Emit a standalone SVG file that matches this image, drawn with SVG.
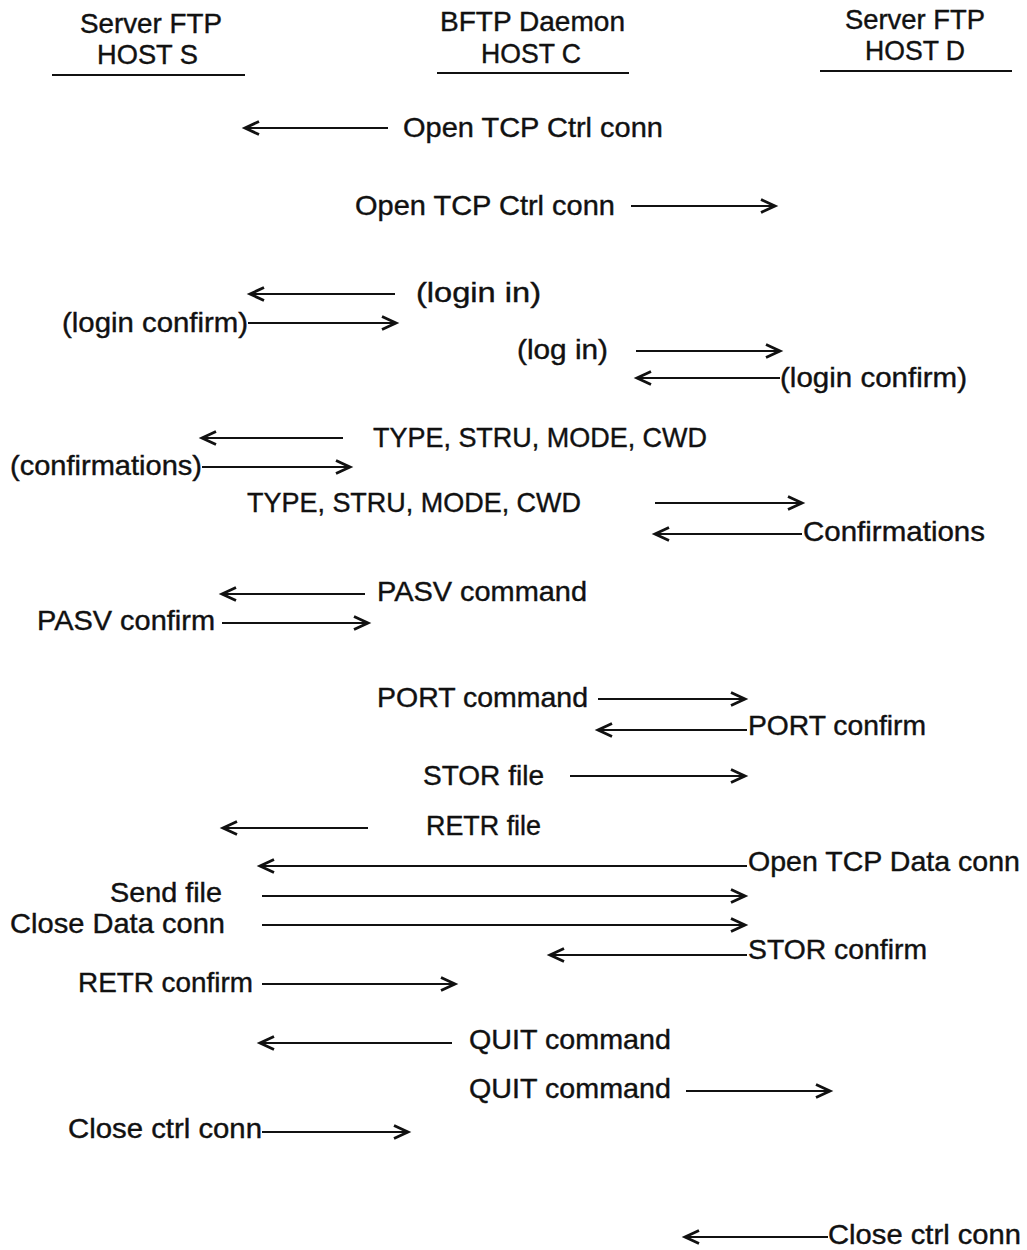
<svg xmlns="http://www.w3.org/2000/svg" width="1027" height="1250" viewBox="0 0 1027 1250">
<style>
text{font-family:"Liberation Sans",Arial,sans-serif;font-size:28px;fill:#111;stroke:#111;stroke-width:0.4}
.hl{stroke:#111;stroke-width:2}
.ar{stroke:#111;stroke-width:2.2;fill:none;marker-end:url(#ah)}
</style>
<defs>
<marker id="ah" markerUnits="userSpaceOnUse" markerWidth="18" markerHeight="16" refX="15" refY="8" orient="auto" overflow="visible">
<path d="M1,1.5 L15,8 L1,14.5" fill="none" stroke="#111" stroke-width="2.8" stroke-linejoin="miter"/>
</marker>
</defs>
<rect width="1027" height="1250" fill="#fff"/>
<g id="hostS">
<text x="80" y="33" textLength="142" lengthAdjust="spacingAndGlyphs">Server FTP</text>
<text x="97" y="64" textLength="101" lengthAdjust="spacingAndGlyphs">HOST S</text>
<line class="hl" x1="52" y1="75" x2="245" y2="75"/>
</g>
<g id="hostC">
<text x="440" y="31" textLength="185" lengthAdjust="spacingAndGlyphs">BFTP Daemon</text>
<text x="481" y="63" textLength="100" lengthAdjust="spacingAndGlyphs">HOST C</text>
<line class="hl" x1="437" y1="73" x2="629" y2="73"/>
</g>
<g id="hostD">
<text x="845" y="29" textLength="140" lengthAdjust="spacingAndGlyphs">Server FTP</text>
<text x="865" y="60" textLength="100" lengthAdjust="spacingAndGlyphs">HOST D</text>
<line class="hl" x1="820" y1="71" x2="1012" y2="71"/>
</g>
<g id="labels">
<text x="403" y="137" textLength="260" lengthAdjust="spacingAndGlyphs">Open TCP Ctrl conn</text>
<text x="355" y="215" textLength="260" lengthAdjust="spacingAndGlyphs">Open TCP Ctrl conn</text>
<text x="416" y="302" textLength="125" lengthAdjust="spacingAndGlyphs">(login in)</text>
<text x="62" y="332" textLength="186" lengthAdjust="spacingAndGlyphs">(login confirm)</text>
<text x="517" y="359" textLength="91" lengthAdjust="spacingAndGlyphs">(log in)</text>
<text x="780" y="387" textLength="187" lengthAdjust="spacingAndGlyphs">(login confirm)</text>
<text x="373" y="447" textLength="334" lengthAdjust="spacingAndGlyphs">TYPE, STRU, MODE, CWD</text>
<text x="10" y="475" textLength="192" lengthAdjust="spacingAndGlyphs">(confirmations)</text>
<text x="247" y="512" textLength="334" lengthAdjust="spacingAndGlyphs">TYPE, STRU, MODE, CWD</text>
<text x="803" y="541" textLength="182" lengthAdjust="spacingAndGlyphs">Confirmations</text>
<text x="377" y="601" textLength="210" lengthAdjust="spacingAndGlyphs">PASV command</text>
<text x="37" y="630" textLength="178" lengthAdjust="spacingAndGlyphs">PASV confirm</text>
<text x="377" y="707" textLength="211" lengthAdjust="spacingAndGlyphs">PORT command</text>
<text x="748" y="735" textLength="178" lengthAdjust="spacingAndGlyphs">PORT confirm</text>
<text x="423" y="785" textLength="121" lengthAdjust="spacingAndGlyphs">STOR file</text>
<text x="426" y="835" textLength="115" lengthAdjust="spacingAndGlyphs">RETR file</text>
<text x="748" y="871" textLength="272" lengthAdjust="spacingAndGlyphs">Open TCP Data conn</text>
<text x="110" y="902" textLength="112" lengthAdjust="spacingAndGlyphs">Send file</text>
<text x="10" y="933" textLength="215" lengthAdjust="spacingAndGlyphs">Close Data conn</text>
<text x="748" y="959" textLength="179" lengthAdjust="spacingAndGlyphs">STOR confirm</text>
<text x="78" y="992" textLength="175" lengthAdjust="spacingAndGlyphs">RETR confirm</text>
<text x="469" y="1049" textLength="202" lengthAdjust="spacingAndGlyphs">QUIT command</text>
<text x="469" y="1098" textLength="202" lengthAdjust="spacingAndGlyphs">QUIT command</text>
<text x="68" y="1138" textLength="194" lengthAdjust="spacingAndGlyphs">Close ctrl conn</text>
<text x="828" y="1244" textLength="193" lengthAdjust="spacingAndGlyphs">Close ctrl conn</text>
</g>
<g id="connectors">
<line class="ar" x1="388" y1="128" x2="245" y2="128"/>
<line class="ar" x1="631" y1="206" x2="775" y2="206"/>
<line class="ar" x1="395" y1="294" x2="250" y2="294"/>
<line class="ar" x1="248" y1="323" x2="396" y2="323"/>
<line class="ar" x1="636" y1="351" x2="780" y2="351"/>
<line class="ar" x1="780" y1="378" x2="637" y2="378"/>
<line class="ar" x1="343" y1="438" x2="202" y2="438"/>
<line class="ar" x1="202" y1="467" x2="350" y2="467"/>
<line class="ar" x1="655" y1="503" x2="802" y2="503"/>
<line class="ar" x1="802" y1="534" x2="655" y2="534"/>
<line class="ar" x1="365" y1="594" x2="222" y2="594"/>
<line class="ar" x1="222" y1="623" x2="368" y2="623"/>
<line class="ar" x1="598" y1="699" x2="745" y2="699"/>
<line class="ar" x1="747" y1="730" x2="598" y2="730"/>
<line class="ar" x1="570" y1="776" x2="745" y2="776"/>
<line class="ar" x1="368" y1="828" x2="223" y2="828"/>
<line class="ar" x1="747" y1="866" x2="260" y2="866"/>
<line class="ar" x1="262" y1="896" x2="745" y2="896"/>
<line class="ar" x1="262" y1="925" x2="745" y2="925"/>
<line class="ar" x1="747" y1="955" x2="550" y2="955"/>
<line class="ar" x1="262" y1="984" x2="455" y2="984"/>
<line class="ar" x1="452" y1="1043" x2="260" y2="1043"/>
<line class="ar" x1="686" y1="1091" x2="830" y2="1091"/>
<line class="ar" x1="262" y1="1132" x2="408" y2="1132"/>
<line class="ar" x1="828" y1="1237" x2="685" y2="1237"/>
</g>
</svg>
